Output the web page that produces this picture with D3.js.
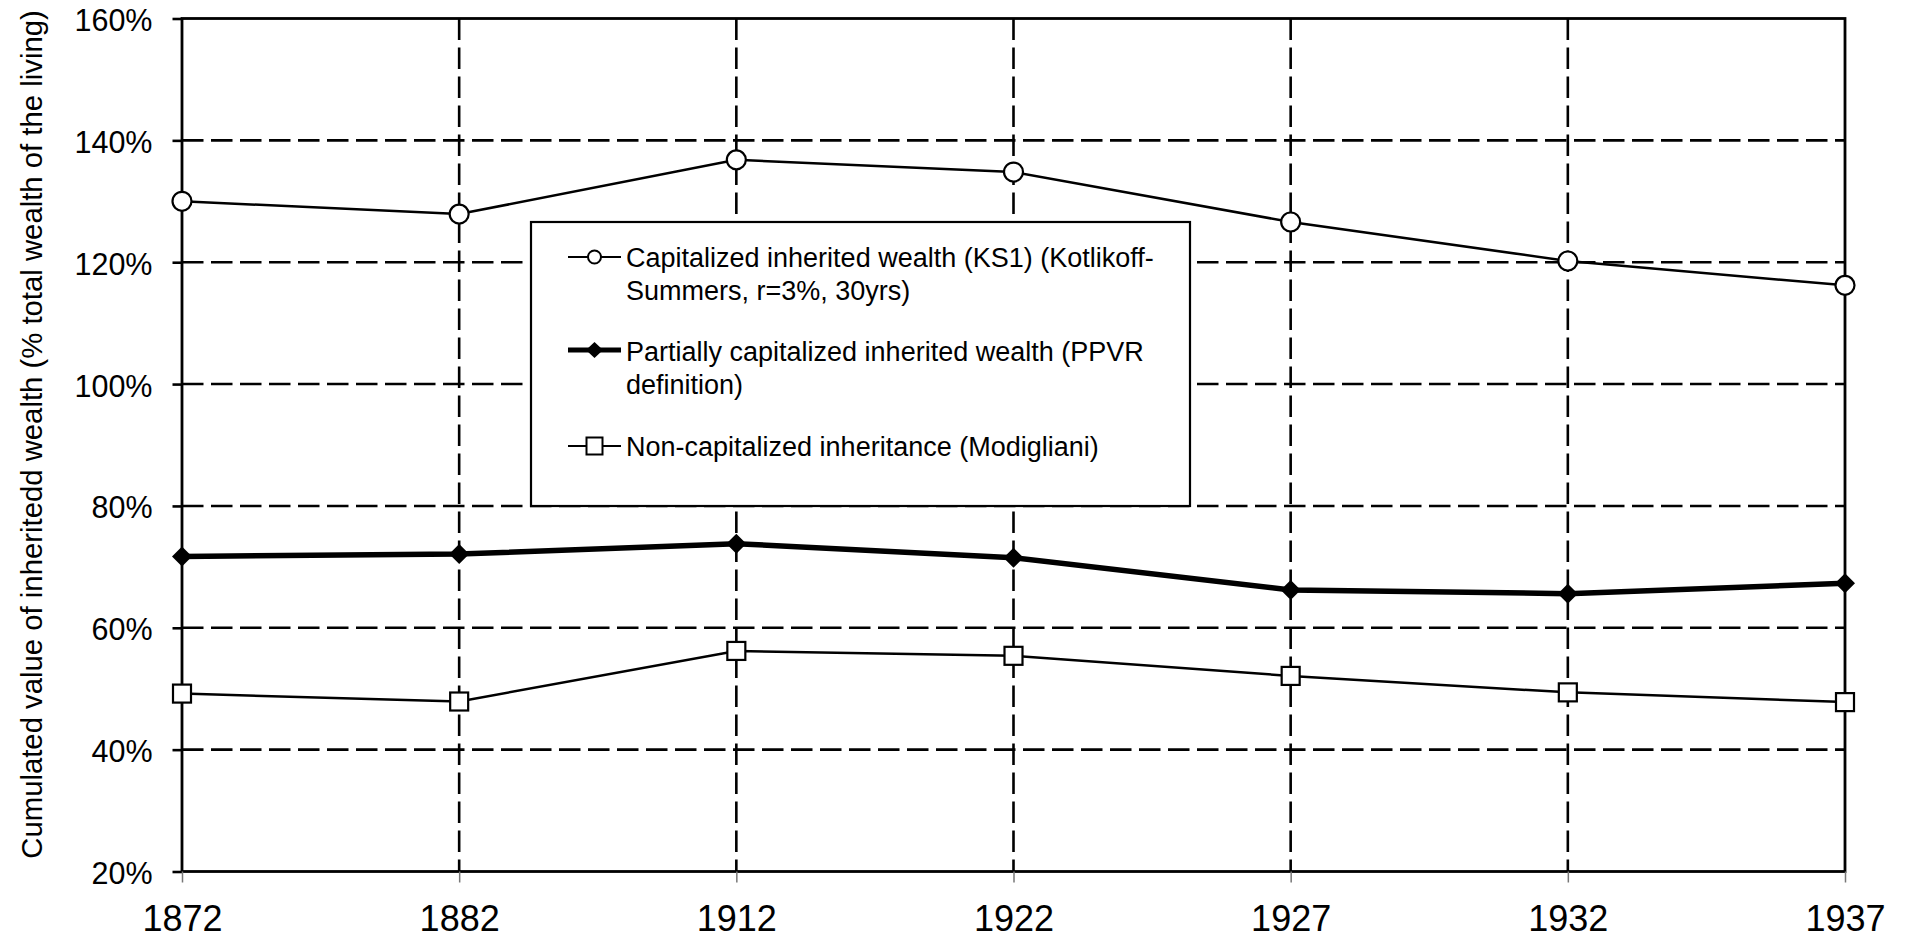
<!DOCTYPE html>
<html>
<head>
<meta charset="utf-8">
<script src="https://cdn.jsdelivr.net/npm/d3@7"></script>
<style>
html,body{margin:0;padding:0;background:#fff;}
svg{display:block;font-family:"Liberation Sans",Arial,sans-serif;}
</style>
</head>
<body>
<svg id="chart" width="1906" height="938"></svg>
<script>
const years = ["1872","1882","1912","1922","1927","1932","1937"];
const ks1 = [130.0, 127.9, 136.8, 134.8, 126.6, 120.2, 116.2];
const ppvr = [71.7, 72.1, 73.8, 71.5, 66.2, 65.6, 67.3];
const modigliani = [49.2, 47.9, 56.2, 55.4, 52.1, 49.4, 47.8];
const yTicks = [20, 40, 60, 80, 100, 120, 140, 160];
const legendLabels = [
  ["Capitalized inherited wealth (KS1) (Kotlikoff-", "Summers, r=3%, 30yrs)"],
  ["Partially capitalized inherited wealth (PPVR", "definition)"],
  ["Non-capitalized inheritance (Modigliani)"]
];
const yTitle = "Cumulated value of inheritedd wealth (% total wealth of the living)";

const svg = d3.select("#chart");
const L = 182, R = 1845, T = 18.5, B = 871.5;

const x = d3.scalePoint().domain(years).range([L, R]).padding(0);
const y = d3.scaleLinear().domain([20, 160]).range([B, T]);

// horizontal grid
svg.append("g").selectAll("line").data(yTicks.filter(d => d > 20 && d < 160)).join("line")
  .attr("x1", L).attr("x2", R).attr("y1", d => y(d)).attr("y2", d => y(d))
  .attr("stroke", "#000").attr("stroke-width", 2.6).attr("stroke-dasharray", "21.5,7.5");
// vertical grid
svg.append("g").selectAll("line").data(years.slice(1, -1)).join("line")
  .attr("x1", d => x(d)).attr("x2", d => x(d)).attr("y1", T).attr("y2", B)
  .attr("stroke", "#000").attr("stroke-width", 2.6).attr("stroke-dasharray", "21.5,7.5");

// border
svg.append("rect").attr("x", L).attr("y", T).attr("width", R - L).attr("height", B - T)
  .attr("fill", "none").attr("stroke", "#000").attr("stroke-width", 2.8);

// y axis
const yAxis = d3.axisLeft(y).tickValues(yTicks).tickFormat(d => d + "%").tickSize(9.5).tickPadding(20);
const gy = svg.append("g").attr("transform", `translate(${L},0)`).call(yAxis);
gy.select(".domain").remove();
gy.selectAll(".tick line").attr("stroke", "#000").attr("stroke-width", 2.6);
gy.selectAll(".tick text").attr("font-size", 30.5).attr("fill", "#000")
  .attr("font-family", "'Liberation Sans',Arial,sans-serif").attr("dy", 12);

// x axis
const xAxis = d3.axisBottom(x).tickSize(11).tickPadding(23);
const gx = svg.append("g").attr("transform", `translate(0,${B})`).call(xAxis);
gx.select(".domain").remove();
gx.selectAll(".tick line").attr("stroke", "#777").attr("stroke-width", 1.5);
gx.selectAll(".tick text").attr("font-size", 36).attr("fill", "#000")
  .attr("font-family", "'Liberation Sans',Arial,sans-serif").attr("dy", "0.72em");

// y title
svg.append("text").attr("transform", "translate(41.5,434.5) rotate(-90)")
  .attr("text-anchor", "middle").attr("font-size", 29.3).attr("fill", "#000").text(yTitle);

const line = d3.line().x((d, i) => x(years[i])).y(d => y(d));

// series lines
svg.append("path").datum(modigliani).attr("d", line).attr("fill", "none").attr("stroke", "#000").attr("stroke-width", 2.5);
svg.append("path").datum(ks1).attr("d", line).attr("fill", "none").attr("stroke", "#000").attr("stroke-width", 2.5);
svg.append("path").datum(ppvr).attr("d", line).attr("fill", "none").attr("stroke", "#000").attr("stroke-width", 5.5);

// markers
svg.append("g").selectAll("circle").data(ks1).join("circle")
  .attr("cx", (d, i) => x(years[i])).attr("cy", d => y(d)).attr("r", 9.5)
  .attr("fill", "#fff").attr("stroke", "#000").attr("stroke-width", 2.2);
svg.append("g").selectAll("rect").data(modigliani).join("rect")
  .attr("x", (d, i) => x(years[i]) - 9).attr("y", d => y(d) - 9).attr("width", 18).attr("height", 18)
  .attr("fill", "#fff").attr("stroke", "#000").attr("stroke-width", 2.2);
const diamond = (cx, cy, w, h) => `M${cx},${cy - h}L${cx + w},${cy}L${cx},${cy + h}L${cx - w},${cy}Z`;
svg.append("g").selectAll("path").data(ppvr).join("path")
  .attr("d", (d, i) => diamond(x(years[i]), y(d), 10, 10)).attr("fill", "#000");

// legend
const lg = svg.append("g");
lg.append("rect").attr("x", 531).attr("y", 222).attr("width", 659).attr("height", 284)
  .attr("fill", "#fff").attr("stroke", "#000").attr("stroke-width", 2.2);
const rowY = [257, 351, 446];
const lineH = 33;
const sx1 = 568, sx2 = 621, scx = 594.5, tx = 626;
// symbol 1
lg.append("line").attr("x1", sx1).attr("x2", sx2).attr("y1", rowY[0]).attr("y2", rowY[0]).attr("stroke", "#000").attr("stroke-width", 2.2);
lg.append("circle").attr("cx", scx).attr("cy", rowY[0]).attr("r", 6.5).attr("fill", "#fff").attr("stroke", "#000").attr("stroke-width", 2);
// symbol 2
lg.append("line").attr("x1", sx1).attr("x2", sx2).attr("y1", rowY[1] - 1).attr("y2", rowY[1] - 1).attr("stroke", "#000").attr("stroke-width", 5);
lg.append("path").attr("d", diamond(scx, rowY[1] - 1, 8.5, 8)).attr("fill", "#000");
// symbol 3
lg.append("line").attr("x1", sx1).attr("x2", sx2).attr("y1", rowY[2]).attr("y2", rowY[2]).attr("stroke", "#000").attr("stroke-width", 2.2);
lg.append("rect").attr("x", scx - 8).attr("y", rowY[2] - 8.5).attr("width", 16).attr("height", 17).attr("fill", "#fff").attr("stroke", "#000").attr("stroke-width", 2);

legendLabels.forEach((lines, k) => {
  lines.forEach((t, j) => {
    lg.append("text").attr("x", tx).attr("y", rowY[k] + j * lineH).attr("dy", "0.36em")
      .attr("font-size", 27).attr("fill", "#000").text(t);
  });
});
</script>
</body>
</html>
